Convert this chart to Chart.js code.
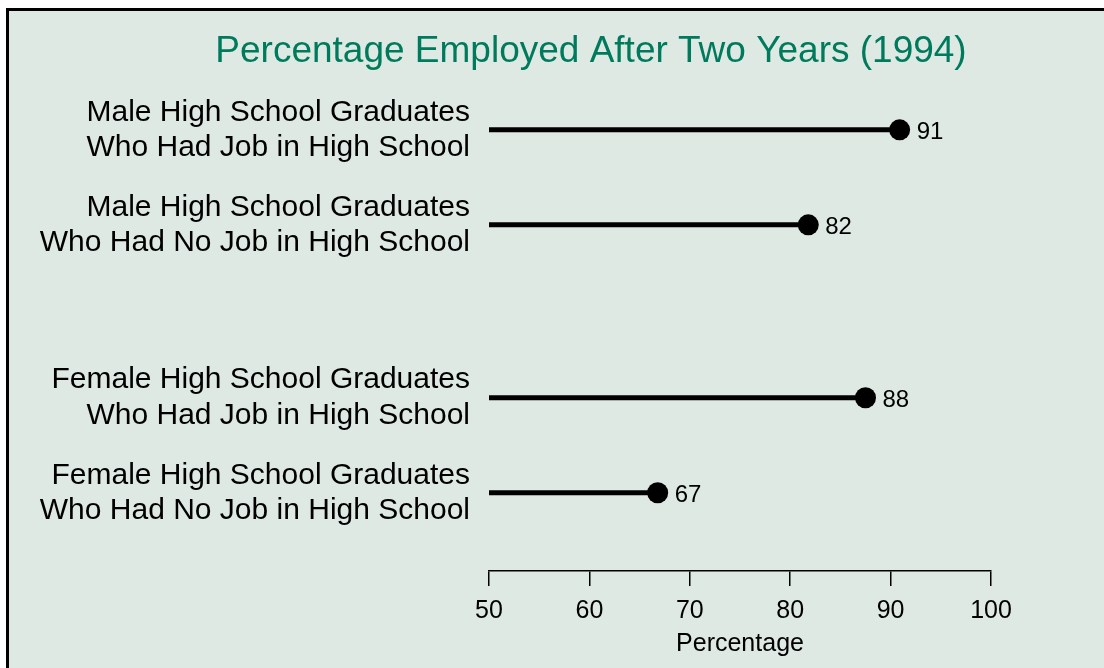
<!DOCTYPE html>
<html>
<head>
<meta charset="utf-8">
<script src="https://cdn.jsdelivr.net/npm/chart.js@4/dist/chart.umd.min.js"></script>
<style>
  html, body { margin: 0; padding: 0; background: #fff; overflow: hidden; }
  #frame {
    position: absolute; left: 6px; top: 8px;
    width: 1200px; height: 800px;
    border: 3px solid #000;
    background: #dde9e2;
  }
  #wrap { position: absolute; left: 0; top: 0; width: 1104px; height: 668px; }
</style>
</head>
<body>
<div id="frame"></div>
<div id="wrap"><canvas id="chart" width="1104" height="668"></canvas></div>
<script>
// data
const categories = [
    ['Male High School Graduates', 'Who Had Job in High School'],
    ['Male High School Graduates', 'Who Had No Job in High School'],
    ['Female High School Graduates', 'Who Had Job in High School'],
    ['Female High School Graduates', 'Who Had No Job in High School']
];
const values = [90.9, 81.8, 87.5, 66.8];
const groups = [0, 0, 1, 1];
const xTicks = [50, 60, 70, 80, 90, 100];

const GROUP_GAP = 0.82;
const rowPos = categories.map((c, i) => i + groups[i] * GROUP_GAP);
const font = 'Liberation Sans';

const datasets = values.map((v, i) => ({
    data: [{x: xTicks[0], y: rowPos[i]}, {x: v, y: rowPos[i]}],
    showLine: true,
    borderColor: '#000',
    borderWidth: 5,
    pointRadius: [0, 10.5],
    pointHoverRadius: [0, 10.5],
    pointBackgroundColor: '#000',
    pointBorderWidth: 0
}));

// numbers next to the dots
const valueLabels = {
    id: 'valueLabels',
    afterLayout(chart) {
        // the long row labels reach left of the axis box, don't let them get clipped
        chart.scales.y.left = 0;
    },
    afterDatasetsDraw(chart) {
        const ctx = chart.ctx;
        const xs = chart.scales.x, ys = chart.scales.y;
        ctx.save();
        ctx.font = '24px "' + font + '"';
        ctx.fillStyle = '#000';
        ctx.textAlign = 'left';
        ctx.textBaseline = 'middle';
        values.forEach((v, i) => {
            ctx.fillText(Math.round(v), xs.getPixelForValue(v) + 17, ys.getPixelForValue(rowPos[i]) + 3);
        });
        ctx.restore();
    }
};

const ctx = document.getElementById('chart').getContext('2d');
const myChart = new Chart(ctx, {
    type: 'scatter',
    data: { datasets: datasets },
    options: {
        responsive: false,
        animation: false,
        devicePixelRatio: 1,
        layout: { padding: { left: 191, right: 113, top: 0, bottom: 0 } },
        plugins: {
            legend: { display: false },
            tooltip: { enabled: false },
            title: {
                display: true,
                text: 'Percentage Employed After Two Years (1994)',
                color: '#007a5c',
                font: { family: font, size: 37, weight: 'normal', lineHeight: 1.2 },
                padding: { top: 30, bottom: 6 }
            }
        },
        scales: {
            x: {
                type: 'linear',
                position: 'bottom',
                min: 50,
                max: 100,
                afterBuildTicks: scale => { scale.ticks = xTicks.map(v => ({value: v})); },
                afterFit: scale => { scale.height = 97; },
                ticks: {
                    color: '#000',
                    padding: 10,
                    font: { family: font, size: 25 }
                },
                grid: {
                    drawOnChartArea: false,
                    drawTicks: true,
                    tickLength: 15,
                    color: '#000',
                    lineWidth: 1.5
                },
                border: { display: true, color: '#000', width: 1.5 },
                title: {
                    display: true,
                    text: 'Percentage',
                    color: '#000',
                    font: { family: font, size: 25 },
                    padding: { top: 0, bottom: 9 }
                }
            },
            y: {
                type: 'linear',
                reverse: true,
                min: -0.52,
                max: 3.82 + 0.823,
                afterBuildTicks: scale => { scale.ticks = rowPos.map(v => ({value: v})); },
                afterFit: scale => { scale.width = 298; scale.paddingTop = 0; scale.paddingBottom = 0; },
                ticks: {
                    color: '#000',
                    padding: 19,
                    font: { family: font, size: 30, lineHeight: 1.17 },
                    callback: (value, index) => categories[index]
                },
                grid: { display: false, drawTicks: false },
                border: { display: false }
            }
        }
    },
    plugins: [valueLabels]
});
</script>
</body>
</html>
